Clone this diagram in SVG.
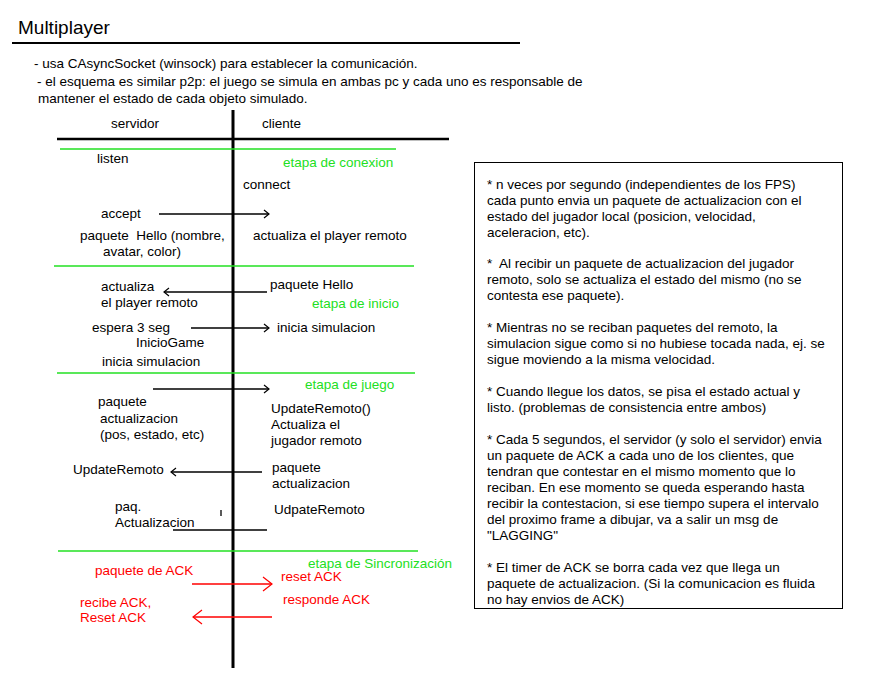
<svg xmlns="http://www.w3.org/2000/svg" width="876" height="688" viewBox="0 0 876 688">
<defs>
<style>
text{font-family:"Liberation Sans",Arial,sans-serif;font-size:13.5px;fill:#000}
.g{fill:#22e022}
.r{fill:#ff0000}
.title{font-size:19px}
.gl{stroke:#22e022;stroke-width:1.5}
.bl{stroke:#000;stroke-width:1.3;fill:none}
.rl{stroke:#ff0000;stroke-width:1.3;fill:none}
</style>
<marker id="ah" markerUnits="userSpaceOnUse" markerWidth="12" markerHeight="12" refX="6" refY="5" orient="auto">
<path d="M1,1 L6,5 L1,9" fill="none" stroke="#000" stroke-width="1.2"/>
</marker>
<marker id="ahr" markerUnits="userSpaceOnUse" markerWidth="14" markerHeight="18" refX="10" refY="8" orient="auto">
<path d="M1,1 L10,8 L1,15" fill="none" stroke="#ff0000" stroke-width="1.2"/>
</marker>
</defs>
<rect width="876" height="688" fill="#fff"/>

<g id="header">
<text class="title" x="18" y="34">Multiplayer</text>
<line x1="12" y1="43" x2="520" y2="43" stroke="#000" stroke-width="2"/>
<text x="34" y="68">- usa CAsyncSocket (winsock) para establecer la comunicación.</text>
<text x="37" y="86">- el esquema es similar p2p: el juego se simula en ambas pc y cada uno es responsable de</text>
<text x="38" y="103">mantener el estado de cada objeto simulado.</text>
</g>

<g id="lanes">
<text x="111" y="128">servidor</text>
<text x="262" y="128">cliente</text>
<line x1="233" y1="110" x2="233" y2="668" stroke="#000" stroke-width="3"/>
<line x1="57" y1="139" x2="449" y2="139" stroke="#000" stroke-width="2.5"/>
<line class="gl" x1="60" y1="149" x2="396" y2="149"/>
<line class="gl" x1="54" y1="266" x2="414" y2="266"/>
<line class="gl" x1="57" y1="373" x2="415" y2="373"/>
<line class="gl" x1="58" y1="551" x2="418" y2="551"/>
</g>

<g id="connectors">
<line class="bl" x1="159" y1="214" x2="269" y2="214" marker-end="url(#ah)"/>
<line class="bl" x1="267" y1="292" x2="164" y2="292" marker-end="url(#ah)"/>
<line class="bl" x1="191" y1="328" x2="269" y2="328" marker-end="url(#ah)"/>
<line class="bl" x1="153" y1="389" x2="269" y2="389" marker-end="url(#ah)"/>
<line class="bl" x1="262" y1="472" x2="171" y2="472" marker-end="url(#ah)"/>
<line class="bl" x1="173" y1="530" x2="267" y2="530"/>
<line class="bl" x1="221" y1="510" x2="221" y2="516"/>
<line class="rl" x1="192" y1="584" x2="272" y2="584" marker-end="url(#ahr)"/>
<line class="rl" x1="272" y1="617" x2="193" y2="617" marker-end="url(#ahr)"/>
</g>

<g id="etapa-conexion">
<text x="97" y="163">listen</text>
<text class="g" x="283" y="167">etapa de conexion</text>
<text x="243" y="189">connect</text>
<text x="101" y="218">accept</text>
<text x="80" y="240" xml:space="preserve">paquete  Hello (nombre,</text>
<text x="103" y="256">avatar, color)</text>
<text x="253" y="240">actualiza el player remoto</text>
</g>

<g id="etapa-inicio">
<text x="101" y="291">actualiza</text>
<text x="101" y="307">el player remoto</text>
<text x="270" y="289">paquete Hello</text>
<text class="g" x="312" y="308">etapa de inicio</text>
<text x="92" y="332">espera 3 seg</text>
<text x="277" y="332">inicia simulacion</text>
<text x="136" y="347">InicioGame</text>
<text x="102" y="366">inicia simulacion</text>
</g>

<g id="etapa-juego">
<text class="g" x="305" y="389">etapa de juego</text>
<text x="98" y="406">paquete</text>
<text x="100" y="423">actualizacion</text>
<text x="100" y="439">(pos, estado, etc)</text>
<text x="271" y="413">UpdateRemoto()</text>
<text x="271" y="429">Actualiza el</text>
<text x="271" y="445">jugador remoto</text>
<text x="73" y="474">UpdateRemoto</text>
<text x="272" y="472">paquete</text>
<text x="272" y="488">actualizacion</text>
<text x="115" y="511">paq.</text>
<text x="115" y="527">Actualizacion</text>
<text x="274" y="514">UdpateRemoto</text>
</g>

<g id="etapa-sincronizacion">
<text class="g" x="308" y="568">etapa de Sincronización</text>
<text class="r" x="281" y="581">reset ACK</text>
<text class="r" x="95" y="575">paquete de ACK</text>
<text class="r" x="283" y="604">responde ACK</text>
<text class="r" x="80" y="607">recibe ACK,</text>
<text class="r" x="80" y="622">Reset ACK</text>
</g>

<g id="notes">
<rect x="474.5" y="162.5" width="368" height="446" fill="none" stroke="#000" stroke-width="1"/>
<text x="487" y="189">* n veces por segundo (independientes de los FPS)</text>
<text x="487" y="205">cada punto envia un paquete de actualizacion con el</text>
<text x="487" y="221">estado del jugador local (posicion, velocidad,</text>
<text x="487" y="237">aceleracion, etc).</text>
<text x="487" y="268" xml:space="preserve">*  Al recibir un paquete de actualizacion del jugador</text>
<text x="487" y="284">remoto, solo se actualiza el estado del mismo (no se</text>
<text x="487" y="300">contesta ese paquete).</text>
<text x="487" y="332">* Mientras no se reciban paquetes del remoto, la</text>
<text x="487" y="348">simulacion sigue como si no hubiese tocada nada, ej. se</text>
<text x="487" y="364">sigue moviendo a la misma velocidad.</text>
<text x="487" y="396">* Cuando llegue los datos, se pisa el estado actual y</text>
<text x="487" y="412">listo. (problemas de consistencia entre ambos)</text>
<text x="487" y="444">* Cada 5 segundos, el servidor (y solo el servidor) envia</text>
<text x="487" y="460">un paquete de ACK a cada uno de los clientes, que</text>
<text x="487" y="476">tendran que contestar en el mismo momento que lo</text>
<text x="487" y="492">reciban. En ese momento se queda esperando hasta</text>
<text x="487" y="508">recibir la contestacion, si ese tiempo supera el intervalo</text>
<text x="487" y="524">del proximo frame a dibujar, va a salir un msg de</text>
<text x="487" y="540">"LAGGING"</text>
<text x="487" y="572">* El timer de ACK se borra cada vez que llega un</text>
<text x="487" y="588">paquete de actualizacion. (Si la comunicacion es fluida</text>
<text x="487" y="604">no hay envios de ACK)</text>
</g>
</svg>
